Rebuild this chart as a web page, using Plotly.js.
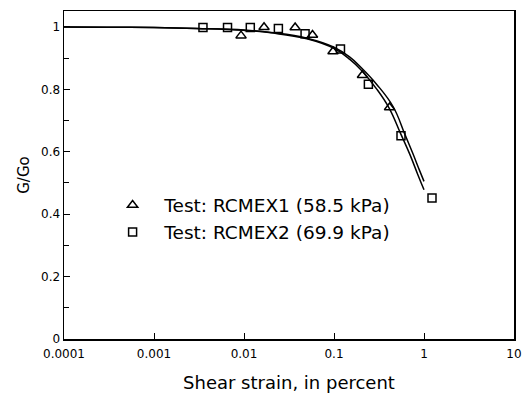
<!DOCTYPE html>
<html>
<head>
<meta charset="utf-8">
<script src="https://cdn.plot.ly/plotly-3.0.1.min.js"></script>
<style>html,body{margin:0;padding:0;background:#fff;}#chart{width:531px;height:394px;}</style>
</head>
<body>
<div id="chart"></div>
<script>
// Test RCMEX1 (triangles)
const rcmex1Strain = [0.00927, 0.0167, 0.037, 0.0577, 0.0975, 0.207, 0.414];
const rcmex1Ratio  = [0.972, 0.999, 0.998, 0.974, 0.921, 0.845, 0.742];
// Test RCMEX2 (squares)
const rcmex2Strain = [0.0035, 0.00656, 0.01175, 0.0241, 0.0477, 0.118, 0.241, 0.555, 1.227];
const rcmex2Ratio  = [0.998, 0.998, 0.998, 0.995, 0.978, 0.929, 0.816, 0.651, 0.452];
// Fitted curves
const curve1Strain = [0.0001, 0.0003, 0.001, 0.003, 0.01, 0.02, 0.05, 0.1, 0.15, 0.2, 0.3, 0.41, 0.55, 0.7, 0.85, 1.0];
const curve1Ratio  = [1.0, 0.999, 0.998, 0.995, 0.989, 0.981, 0.962, 0.931, 0.896, 0.862, 0.80, 0.74, 0.658, 0.59, 0.528, 0.478];
const curve2Strain = [0.0001, 0.0003, 0.001, 0.003, 0.01, 0.02, 0.05, 0.1, 0.15, 0.2, 0.3, 0.453, 0.615, 0.75, 0.887, 1.0];
const curve2Ratio  = [1.0, 0.999, 0.998, 0.995, 0.99, 0.982, 0.964, 0.935, 0.903, 0.87, 0.815, 0.745, 0.655, 0.595, 0.542, 0.505];
const legendNames = ['Test: RCMEX1 (58.5 kPa)', 'Test: RCMEX2 (69.9 kPa)'];
const xTickVals = [0.0001, 0.001, 0.01, 0.1, 1, 10];
const xTickText = ['0.0001', '0.001', '0.01', '0.1', '1', '10'];
const yTickVals = [0, 0.2, 0.4, 0.6, 0.8, 1];
const yTickText = ['0', '0.2', '0.4', '0.6', '0.8', '1'];

const FONT = 'DejaVu Sans, sans-serif';
const traces = [
  {x: curve1Strain, y: curve1Ratio, mode: 'lines', line: {color: '#000', width: 1.5, shape: 'spline', smoothing: 1.2}, showlegend: false, hoverinfo: 'skip'},
  {x: curve2Strain, y: curve2Ratio, mode: 'lines', line: {color: '#000', width: 1.5, shape: 'spline', smoothing: 1.2}, showlegend: false, hoverinfo: 'skip'},
  {x: rcmex1Strain, y: rcmex1Ratio, mode: 'markers', name: '\u00a0\u00a0' + legendNames[0],
   marker: {symbol: 'triangle-up-open', size: 9, color: '#000', line: {width: 1.5, color: '#000'}}},
  {x: rcmex2Strain, y: rcmex2Ratio, mode: 'markers', name: '\u00a0\u00a0' + legendNames[1],
   marker: {symbol: 'square-open', size: 8, color: '#000', line: {width: 1.5, color: '#000'}}}
];
const layout = {
  width: 531, height: 394,
  margin: {l: 64, r: 17, t: 11, b: 55},
  paper_bgcolor: '#fff', plot_bgcolor: '#fff',
  font: {family: FONT, color: '#000'},
  showlegend: true,
  legend: {x: 0.108, y: 0.465, xanchor: 'left', yanchor: 'top', bgcolor: 'rgba(0,0,0,0)',
           font: {size: 18.5, family: FONT, color: '#000'}, itemwidth: 30, tracegroupgap: 0},
  xaxis: {type: 'log', range: [-4, 1], tickvals: xTickVals, ticktext: xTickText,
          ticks: 'inside', ticklen: 6, tickwidth: 1, tickcolor: '#000',
          showline: true, linecolor: '#000', linewidth: 1.5, mirror: true,
          showgrid: false, zeroline: false, tickfont: {size: 12, family: FONT}, ticklabelstandoff: 3,
          title: {text: 'Shear strain, in percent', font: {size: 18, family: FONT}, standoff: 16}},
  yaxis: {range: [0, 1.051], tickvals: yTickVals, ticktext: yTickText,
          ticks: 'inside', ticklen: 6, tickwidth: 1, tickcolor: '#000',
          minor: {dtick: 0.2, tick0: 0.1, ticks: 'inside', ticklen: 5, tickcolor: '#000', tickwidth: 1},
          showline: true, linecolor: '#000', linewidth: 1.5, mirror: true,
          showgrid: false, zeroline: false, tickfont: {size: 12, family: FONT},
          title: {text: 'G/Go', font: {size: 15, family: FONT}, standoff: 8}}
};
Plotly.newPlot('chart', traces, layout, {displayModeBar: false, staticPlot: true});
</script>
</body>
</html>
